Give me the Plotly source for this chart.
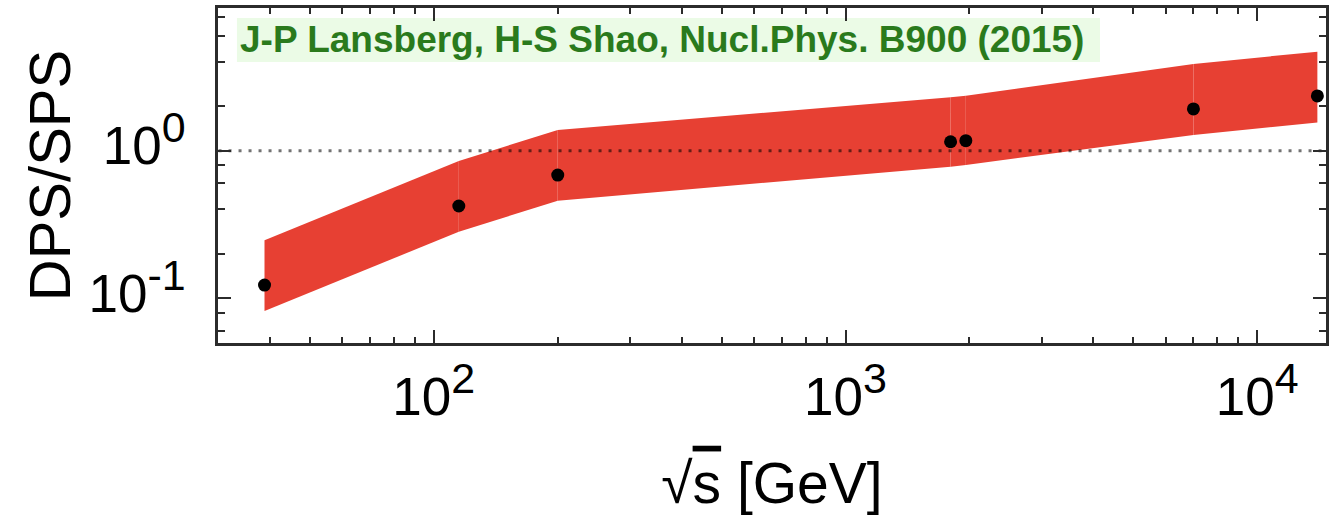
import plotly.graph_objects as go

# Centre-of-mass energies (GeV) and DPS/SPS ratio
sqrt_s = [38.8, 115, 200, 1800, 1960, 7000, 14000]
ratio_points = [0.123, 0.422, 0.684, 1.15, 1.17, 1.92, 2.35]
band_upper = [0.2475, 0.852, 1.38, 2.30, 2.36, 3.87, 4.69]
band_lower = [0.0819, 0.2826, 0.4585, 0.78, 0.80, 1.28, 1.55]

x_tick_vals = [100, 1000, 10000]
x_exponents = ["2", "3", "4"]
y_tick_vals = [0.1, 1]
y_exponents = ["-1", "0"]

x_minor = [m * 10 ** e for e in (1, 2, 3, 4) for m in range(2, 10)]
y_minor = [m * 10 ** e for e in (-2, -1, 0) for m in (2, 4, 6, 8)]

FONT = "Liberation Sans, Arial, Helvetica, sans-serif"
BAND = "rgb(231,64,51)"
AXIS = "#2b2b2b"
TICK_SIZE = 53
SUP_SIZE = 43


def power_label(exp):
    return f"10<sup><span style='font-size:{SUP_SIZE}px'>{exp}</span></sup>"


fig = go.Figure()

# uncertainty band, one quadrilateral per energy interval
for i in range(len(sqrt_s) - 1):
    xs = [sqrt_s[i], sqrt_s[i + 1], sqrt_s[i + 1], sqrt_s[i], sqrt_s[i]]
    ys = [band_upper[i], band_upper[i + 1], band_lower[i + 1], band_lower[i], band_upper[i]]
    fig.add_trace(go.Scatter(
        x=xs, y=ys, mode="lines", fill="toself", fillcolor=BAND,
        line=dict(width=0, color=BAND), hoverinfo="skip", showlegend=False,
    ))

# reference line at DPS/SPS = 1
fig.add_trace(go.Scatter(
    x=[30, 14700], y=[1, 1], mode="lines",
    line=dict(color="rgba(0,0,0,0.55)", width=3, dash="3px,7px"),
    hoverinfo="skip", showlegend=False,
))

fig.add_trace(go.Scatter(
    x=sqrt_s, y=ratio_points, mode="markers",
    marker=dict(color="black", size=13),
    showlegend=False,
))

# citation box
fig.add_shape(type="rect", xref="paper", yref="paper",
              x0=0.0171, x1=0.7960, y0=0.8388, y1=0.9701,
              fillcolor="#ebfbe6", line=dict(width=0), layer="below")
fig.add_annotation(
    xref="paper", yref="paper", x=0.0180, y=0.9045,
    xanchor="left", yanchor="middle", showarrow=False,
    text="<b>J-P Lansberg, H-S Shao, Nucl.Phys. B900 (2015)</b>",
    font=dict(family=FONT, size=37, color="#2a7a1c"),
)

axis_common = dict(
    type="log", showgrid=False, zeroline=False,
    showline=True, linecolor=AXIS, linewidth=2.5, mirror="ticks",
    ticks="inside", ticklen=13, tickwidth=2, tickcolor=AXIS,
    tickmode="array",
    tickfont=dict(family=FONT, size=TICK_SIZE, color="black"),
)

fig.update_xaxes(
    **axis_common,
    range=[1.4758, 4.1671],
    tickvals=x_tick_vals, ticktext=[power_label(e) for e in x_exponents],
    ticklabelstandoff=6,
    minor=dict(tickmode="array", tickvals=x_minor, ticks="inside",
               ticklen=6, tickwidth=1.5, tickcolor=AXIS),
    title=dict(text="√<span style='text-decoration:overline'>s</span> [GeV]",
               font=dict(family=FONT, size=57, color="black"), standoff=38),
)
fig.update_yaxes(
    **axis_common,
    range=[-1.3028, 0.9668],
    tickvals=y_tick_vals, ticktext=[power_label(e) for e in y_exponents],
    ticklabelstandoff=19, ticklabelshift=-5,
    minor=dict(tickmode="array", tickvals=y_minor, ticks="inside",
               ticklen=7, tickwidth=1.5, tickcolor=AXIS),
    title=dict(text="DPS/SPS", font=dict(family=FONT, size=58, color="black"),
               standoff=0),
)

fig.update_layout(
    width=1331, height=531,
    margin=dict(l=218, r=5, t=8, b=188, autoexpand=False),
    plot_bgcolor="white", paper_bgcolor="white",
    showlegend=False,
)

fig.write_html("out.html")
